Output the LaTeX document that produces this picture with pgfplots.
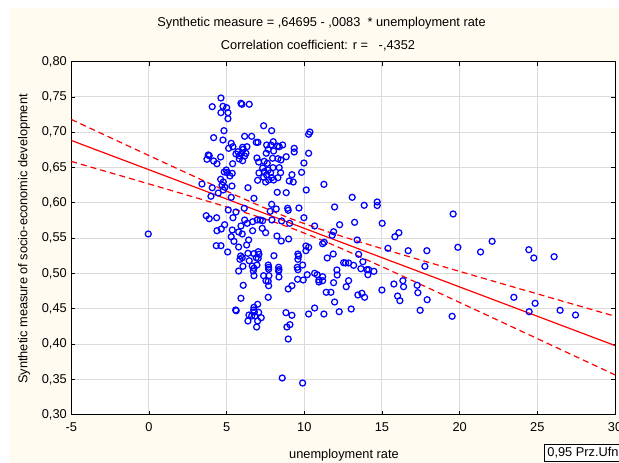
\documentclass[border=0pt]{standalone}
\usepackage{pgfplots}
\pgfplotsset{compat=1.18}
\usepackage{fontspec}
\setmainfont{Liberation Sans}
\definecolor{cream}{RGB}{255,251,240}
\definecolor{gridgray}{RGB}{218,218,218}
\newcommand\fsz{\fontsize{12.8}{15}\selectfont}
\pgfplotstableread{
x y
4.633 0.7486
4.073 0.7363
4.762 0.7368
5.000 0.7348
4.633 0.7278
5.084 0.7278
5.084 0.7193
5.920 0.7411
5.985 0.7397
6.454 0.7397
7.381 0.7093
7.896 0.7023
4.826 0.7023
4.163 0.6924
4.762 0.6891
6.158 0.6943
6.609 0.6943
5.296 0.6844
6.905 0.6858
7.014 0.6858
7.999 0.6867
5.129 0.6773
5.405 0.6796
5.727 0.6725
6.030 0.6788
6.068 0.6759
6.306 0.6796
5.598 0.6693
5.811 0.6669
5.965 0.6703
6.242 0.6703
5.811 0.6622
6.030 0.6598
6.158 0.6664
3.816 0.6679
3.732 0.6618
3.880 0.6669
4.163 0.6594
4.376 0.6555
4.614 0.6650
5.386 0.6555
7.574 0.6820
7.677 0.6759
7.548 0.6703
7.851 0.6820
8.282 0.6806
8.385 0.6796
8.604 0.6820
8.024 0.6735
7.960 0.6632
8.301 0.6626
8.494 0.6608
6.950 0.6636
7.059 0.6579
7.420 0.6589
7.613 0.6561
7.317 0.6494
7.420 0.6442
7.677 0.6466
7.979 0.6499
8.385 0.6499
8.475 0.6428
7.831 0.6428
7.574 0.6395
7.896 0.6357
8.024 0.6324
8.301 0.6357
7.079 0.6424
6.995 0.6320
7.381 0.6363
7.510 0.6296
7.703 0.6324
4.974 0.6466
4.846 0.6438
5.039 0.6428
5.212 0.6381
5.360 0.6419
4.614 0.6334
4.781 0.6296
4.698 0.6254
4.891 0.6221
5.341 0.6239
4.781 0.6183
4.460 0.6140
4.073 0.6215
3.411 0.6268
3.990 0.6094
5.296 0.6079
6.371 0.6215
6.757 0.6065
8.256 0.6150
7.896 0.5980
8.192 0.5914
5.103 0.5900
5.598 0.5871
6.133 0.5924
7.806 0.5881
3.687 0.5819
4.357 0.5790
5.405 0.5790
3.880 0.5776
-0.045 0.5560
4.871 0.5691
4.653 0.5630
4.376 0.5606
5.920 0.5673
6.158 0.5758
6.326 0.5711
6.673 0.5734
6.969 0.5758
7.162 0.5758
7.317 0.5748
7.915 0.5758
8.539 0.5744
5.360 0.5616
5.772 0.5588
6.004 0.5560
6.673 0.5606
7.291 0.5640
7.510 0.5578
8.237 0.5531
8.514 0.5460
5.296 0.5521
5.470 0.5456
6.416 0.5475
6.287 0.5404
5.772 0.5375
4.331 0.5394
4.633 0.5394
5.064 0.5305
5.901 0.5248
6.004 0.5224
5.856 0.5201
6.371 0.5286
6.757 0.5281
7.034 0.5309
7.079 0.5272
6.905 0.5224
7.034 0.5215
6.454 0.5181
8.044 0.5252
6.049 0.5102
5.772 0.5035
6.647 0.5106
6.757 0.5074
6.712 0.5035
6.950 0.5120
7.677 0.5120
7.703 0.5088
7.703 0.5060
8.346 0.5088
8.366 0.5054
8.346 0.5035
6.757 0.4969
7.381 0.4969
7.722 0.4969
8.366 0.4951
7.529 0.4898
7.677 0.4890
7.703 0.4827
6.068 0.4833
5.920 0.4649
7.677 0.4663
5.579 0.4483
5.618 0.4473
6.995 0.4564
6.757 0.4521
6.737 0.4483
6.776 0.4455
7.059 0.4450
6.435 0.4412
6.609 0.4398
7.227 0.4374
6.821 0.4398
6.371 0.4327
6.995 0.4327
6.931 0.4242
8.578 0.3520
9.891 0.3449
8.964 0.4072
8.880 0.4242
9.073 0.4275
8.816 0.4445
9.202 0.4408
8.990 0.5489
9.588 0.5276
9.633 0.5248
9.588 0.5201
9.543 0.5088
9.588 0.5054
8.964 0.4781
9.202 0.4827
9.569 0.4918
10.277 0.6972
10.360 0.7004
9.350 0.6773
9.350 0.6721
8.835 0.6654
10.277 0.6703
9.974 0.6565
9.826 0.6433
9.202 0.6399
9.028 0.6310
9.286 0.6296
11.261 0.6263
10.122 0.6183
8.835 0.6145
13.083 0.6079
11.950 0.5942
13.855 0.5966
14.691 0.6013
14.691 0.5963
9.653 0.5928
8.925 0.5924
8.964 0.5895
9.974 0.5790
9.054 0.5711
10.663 0.5673
12.272 0.5691
13.237 0.5725
15.013 0.5711
11.885 0.5592
16.088 0.5578
16.686 0.5323
17.889 0.5323
17.761 0.5102
17.458 0.4479
17.909 0.4629
17.265 0.4833
17.310 0.4728
16.345 0.4898
16.390 0.4813
19.582 0.5843
19.884 0.5371
19.517 0.4394
21.345 0.5305
22.091 0.5456
23.488 0.4663
24.472 0.4459
24.858 0.4578
24.453 0.5337
24.775 0.5220
26.081 0.5238
26.467 0.4479
27.458 0.4412
11.796 0.5541
13.404 0.5475
15.830 0.5521
15.380 0.5357
10.103 0.5390
10.277 0.5371
10.103 0.5323
11.178 0.5422
11.281 0.5442
11.474 0.5220
11.860 0.5276
9.891 0.5120
9.929 0.4908
10.187 0.4983
10.663 0.5003
10.830 0.4983
11.178 0.4955
10.940 0.4908
10.940 0.4880
11.178 0.4898
11.885 0.4870
12.098 0.5050
12.117 0.4979
12.529 0.5153
12.658 0.5149
12.851 0.5149
13.173 0.5116
12.851 0.4898
13.494 0.5272
13.771 0.5167
13.642 0.5068
14.028 0.5054
14.138 0.5054
14.093 0.4983
14.479 0.5031
12.697 0.4813
11.409 0.4734
11.712 0.4734
11.950 0.4596
10.663 0.4511
10.277 0.4426
11.261 0.4426
12.246 0.4459
13.018 0.4497
13.449 0.4696
13.707 0.4720
13.880 0.4663
14.994 0.4766
15.766 0.4851
16.004 0.4681
16.152 0.4615
}\scatterdata
\begin{document}
\begin{tikzpicture}[x=1pt,y=1pt,font=\fsz]
\useasboundingbox (0,0) rectangle (619,463);
\fill[white] (0,0) rectangle (619,463);
\fill[cream] (10,0) rectangle (619,455);
\node at (321.5,440) {Synthetic measure = ,64695 - ,0083\ \ * unemployment rate};
\node at (318,417) {Correlation coefficient: r = \ \ -,4352};
\begin{axis}[
  at={(71.3pt,48.3pt)}, anchor=south west,
  scale only axis, width=543.7pt, height=353pt,
  xmin=-5, xmax=30, ymin=0.3, ymax=0.8,
  xtick={-5,0,5,10,15,20,25,30},
  ytick={0.3,0.35,0.4,0.45,0.5,0.55,0.6,0.65,0.7,0.75,0.8},
  axis background/.style={fill=white},
  grid=major,
  grid style={gridgray, line width=1pt},
  axis line style={black, line width=0.9pt},
  tick align=inside,
  major tick length=4pt,
  tick style={black, line width=0.8pt},
  ticklabel style={font=\fsz},
  xticklabel style={yshift=-4pt},
  yticklabel style={xshift=-1pt},
  /pgf/number format/assume math mode=true,
  yticklabel={\pgfmathprintnumber[fixed,fixed zerofill,precision=2,use comma]{\tick}},
  xticklabel={\pgfmathprintnumber[fixed,precision=0]{\tick}},
  clip=true,
]
\addplot[only marks, mark=o, mark size=3pt, mark options={draw=blue, line width=1.25pt}] table[x=x,y=y] {\scatterdata};
\addplot[red, line width=1.2pt] coordinates {(-5,0.68845) (30,0.39795)};
\addplot[red, line width=1.2pt, dash pattern=on 6pt off 4pt, smooth] coordinates {
(-5,0.71818) (-2.5,0.69258) (0,0.66705) (2.5,0.64166) (5,0.61659) (7.5,0.59238) (9.5,0.57466) (12,0.55560) (15,0.53526) (17.5,0.51899) (20,0.50295) (22.5,0.48701) (25,0.47114) (27.5,0.45529) (30,0.43947)};
\addplot[red, line width=1.2pt, dash pattern=on 6pt off 4pt, smooth] coordinates {
(-5,0.65872) (-2.5,0.64282) (0,0.62685) (2.5,0.61074) (5,0.59431) (7.5,0.57702) (9.5,0.56154) (12,0.53910) (15,0.50964) (17.5,0.48441) (20,0.45895) (22.5,0.43339) (25,0.40776) (27.5,0.38211) (30,0.35643)};
\end{axis}
\node at (344,8) {unemployment rate};
\node[rotate=90] at (24,224) {Synthetic measure of socio-economic development};
\node[draw=black, line width=0.8pt, fill=white, anchor=north west, inner sep=3pt] at (544,19) {0,95 Prz.Ufn.};
\end{tikzpicture}
\end{document}
